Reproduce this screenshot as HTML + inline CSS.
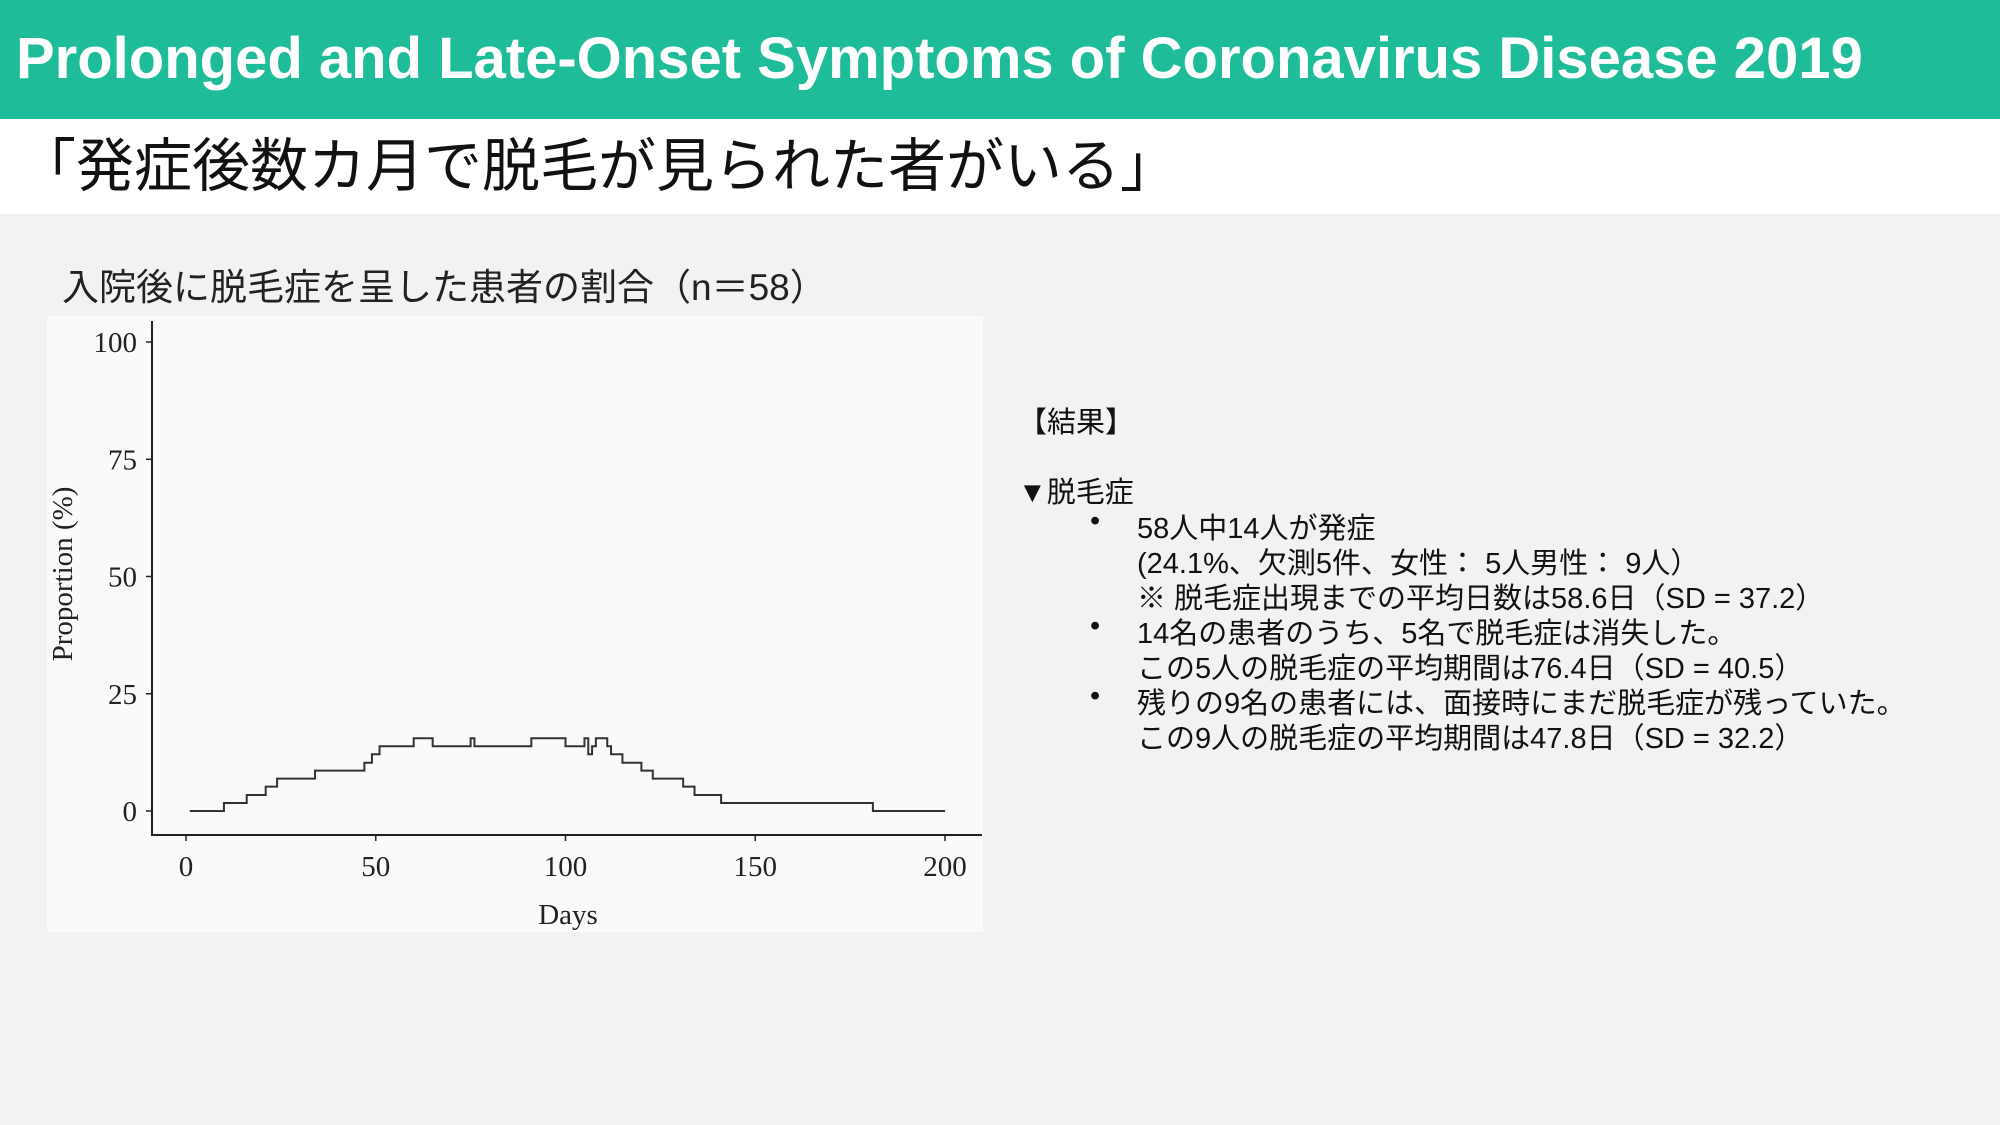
<!DOCTYPE html>
<html><head><meta charset="utf-8">
<style>
body{margin:0;width:2000px;height:1125px;background:#f2f2f2;position:relative;overflow:hidden;font-family:"Liberation Sans","Noto Sans CJK JP",sans-serif;}
.hdr{position:absolute;left:0;top:0;width:2000px;height:119px;background:#1fbc9a;}
.hdr span{position:absolute;left:16px;top:25px;color:#fff;font-weight:bold;font-size:58px;white-space:nowrap;}
.sub{position:absolute;left:0;top:119px;width:2000px;height:95px;background:#fff;}
.sub span{position:absolute;left:18px;top:0px;font-size:58px;color:#111;white-space:nowrap;}
.ct{position:absolute;left:62px;top:257px;font-size:37px;color:#222;white-space:nowrap;}
.res{position:absolute;font-size:29px;color:#111;white-space:nowrap;}
</style></head><body>
<div class="hdr"><span>Prolonged and Late-Onset Symptoms of Coronavirus Disease 2019</span></div>
<div class="sub"><span>「発症後数カ月で脱毛が見られた者がいる」</span></div>
<div class="ct">入院後に脱毛症を呈した患者の割合（n＝58）</div>
<svg id="chart" style="position:absolute;left:0;top:0" width="2000" height="1125"></svg>
<div class="res" style="left:1018px;top:399px">【結果】</div>
<div class="res" style="left:1018px;top:469px">▼脱毛症</div>
<div class="res" style="left:1090px;top:505px">•</div>
<div class="res" style="left:1137px;top:505px">58人中14人が発症</div>
<div class="res" style="left:1137px;top:540px">(24.1%、欠測5件、女性： 5人男性： 9人）</div>
<div class="res" style="left:1137px;top:575px">※ 脱毛症出現までの平均日数は58.6日（SD = 37.2）</div>
<div class="res" style="left:1090px;top:610px">•</div>
<div class="res" style="left:1137px;top:610px">14名の患者のうち、5名で脱毛症は消失した。</div>
<div class="res" style="left:1137px;top:645px">この5人の脱毛症の平均期間は76.4日（SD = 40.5）</div>
<div class="res" style="left:1090px;top:680px">•</div>
<div class="res" style="left:1137px;top:680px">残りの9名の患者には、面接時にまだ脱毛症が残っていた。</div>
<div class="res" style="left:1137px;top:715px">この9人の脱毛症の平均期間は47.8日（SD = 32.2）</div>
<script>
const stepDays=[1,10,16,21,24,34,47,49,51,60,65,75,76,91,100,105,106,107,108,111,112,115,120,123,131,134,141,181];
const stepValues=[0,1.7,3.4,5.2,6.9,8.6,10.3,12.1,13.8,15.5,13.8,15.5,13.8,15.5,13.8,15.5,12.1,13.8,15.5,13.8,12.1,10.3,8.6,6.9,5.2,3.4,1.7,0];
const endDay=200;
const xTicks=[0,50,100,150,200];
const yTicks=[0,25,50,75,100];
const NS='http://www.w3.org/2000/svg';
const svg=document.getElementById('chart');
const X=d=>186+d*(945-186)/200;
const Y=v=>811-v*(811-342)/100;
function mk(t,a){const e=document.createElementNS(NS,t);for(const k in a)e.setAttribute(k,a[k]);svg.appendChild(e);return e;}
let bg=mk('rect',{x:47,y:316,width:936,height:616,fill:'#fafafa'});


let ya=mk('line',{x1:152,y1:321,x2:152,y2:836,stroke:'#222','stroke-width':2});


let xa=mk('line',{x1:151,y1:835,x2:982,y2:835,stroke:'#222','stroke-width':2});


yTicks.forEach(v=>{
 let l=mk('line',{x1:146,y1:Y(v),x2:152,y2:Y(v),stroke:'#222','stroke-width':1.5});
 
 
 let t=mk('text',{x:137,y:Y(v)+10,'text-anchor':'end','font-family':'Liberation Serif, serif','font-size':29,fill:'#222'});
 t.textContent=v;
 
 
});
xTicks.forEach(d=>{
 let l=mk('line',{x1:X(d),y1:835,x2:X(d),y2:841,stroke:'#222','stroke-width':1.5});
 
 
 let t=mk('text',{x:X(d),y:876,'text-anchor':'middle','font-family':'Liberation Serif, serif','font-size':29,fill:'#222'});
 t.textContent=d;
 
 
});
let xt=mk('text',{x:568,y:924,'text-anchor':'middle','font-family':'Liberation Serif, serif','font-size':29,fill:'#222'});
xt.textContent='Days';


let yt=mk('text',{x:0,y:0,'text-anchor':'middle','font-family':'Liberation Serif, serif','font-size':29,fill:'#222',transform:'translate(72,574) rotate(-90)'});
yt.textContent='Proportion (%)';


let d='';
stepDays.forEach((day,i)=>{
 const next=i+1<stepDays.length?stepDays[i+1]:endDay;
 d+=(i===0?'M':'L')+X(day)+','+Y(stepValues[i])+'L'+X(next)+','+Y(stepValues[i]);
});
let p=mk('path',{d:d,fill:'none',stroke:'#333','stroke-width':2});


</script>
</body></html>
